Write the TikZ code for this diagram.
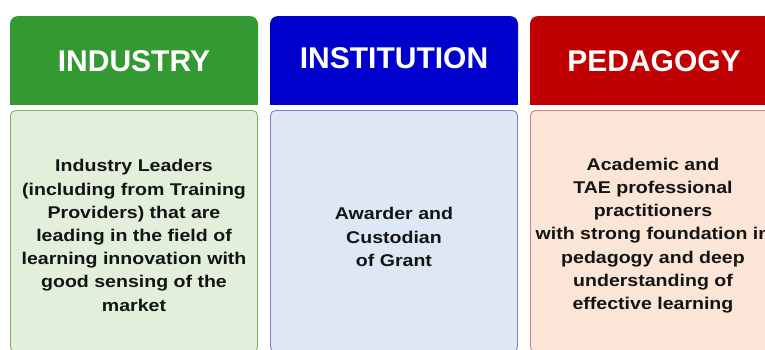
\documentclass[tikz,border=0pt]{standalone}
\usepackage{fontspec}
\setmainfont{Liberation Sans}
\newfontfamily\widefont[FakeStretch=1.15]{Liberation Sans}
\begin{document}
\begin{tikzpicture}[x=1pt,y=-1pt,
  hdrtext/.style={text=white,font=\fontsize{30}{34}\selectfont\bfseries,inner sep=0pt,anchor=center},
  bodytext/.style={text=black!92,font=\widefont\fontsize{17}{23.2}\selectfont\bfseries,align=center,inner sep=0pt,anchor=center},
  bodybox/.style={rounded corners=5pt,line width=0.9pt}]
\useasboundingbox (0,0) rectangle (765,349);
\clip (0,0) rectangle (765,349);
\definecolor{hgreen}{HTML}{339933}
\definecolor{hblue}{HTML}{0000CC}
\definecolor{hred}{HTML}{C00000}
\definecolor{bgreen}{HTML}{E2EFDA}
\definecolor{lgreen}{HTML}{74B85C}
\definecolor{bblue}{HTML}{DEE8F5}
\definecolor{lblue}{HTML}{7B7BD6}
\definecolor{bred}{HTML}{FBE5D6}
\definecolor{lred}{HTML}{DC7C7C}
% headers
\fill[hgreen,rounded corners=8pt] (10,16) rectangle (258,80);
\fill[hgreen] (10,50) rectangle (258,105);
\fill[hblue,rounded corners=8pt] (270,16) rectangle (518,80);
\fill[hblue] (270,50) rectangle (518,105);
\fill[hred,rounded corners=8pt] (530,16) rectangle (778,80);
\fill[hred] (530,50) rectangle (778,105);
\node[hdrtext] (t1) at (134,61) {INDUSTRY};
\node[hdrtext] (t2) at (394,58) {INSTITUTION};
\node[hdrtext] (t3) at (654,61) {PEDAGOGY};
% bodies
\draw[bodybox,fill=bgreen,draw=lgreen] (10.5,110.5) rectangle (257.5,352);
\draw[bodybox,fill=bblue,draw=lblue] (270.5,110.5) rectangle (517.5,352);
\draw[bodybox,fill=bred,draw=lred] (530.5,110.5) rectangle (778,352);
\node[bodytext] (b1) at (134,235.5) {Industry Leaders\\(including from Training\\Providers) that are\\leading in the field of\\learning innovation with\\good sensing of the\\market};
\node[bodytext] (b2) at (394,237) {Awarder and\\Custodian\\of Grant};
\node[bodytext] (b3) at (653,235.5) {Academic and\\TAE professional\\practitioners\\with strong foundation in\\pedagogy and deep\\understanding of\\effective learning};
\end{tikzpicture}
\end{document}
